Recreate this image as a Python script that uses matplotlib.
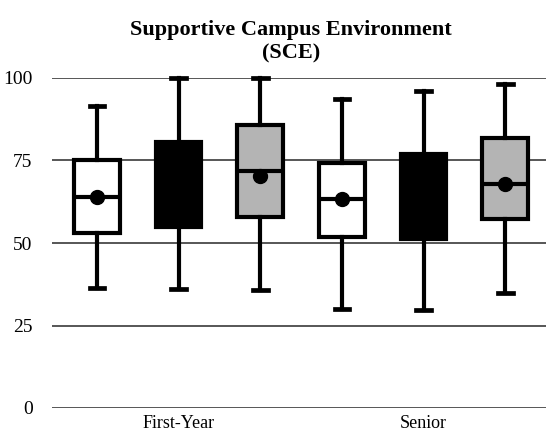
import matplotlib
matplotlib.use("Agg")
import matplotlib.pyplot as plt

# ---- data ----
groups = ["First-Year", "Senior"]
series_colors = ["white", "black", "#b4b4b4"]
whislo = [36.4, 36.0, 35.8, 29.9, 29.7, 34.9]
q1 = [53.0, 54.9, 58.0, 51.9, 51.2, 57.2]
med = [64.0, 68.0, 71.8, 63.2, 64.0, 67.8]
q3 = [75.2, 80.7, 85.8, 74.1, 77.0, 81.7]
whishi = [91.5, 100.0, 100.0, 93.5, 96.1, 98.2]
means = [64.0, 68.0, 70.3, 63.2, 64.0, 67.8]
yticks = [0, 25, 50, 75, 100]

serif = ["Liberation Serif", "DejaVu Serif"]

fig = plt.figure(figsize=(5.46, 4.33), dpi=100)
ax = fig.add_axes([52 / 546, (433 - 408) / 433, (546 - 52) / 546, 330 / 433])

positions = list(range(1, len(q1) + 1))
stats = []
for i in range(len(q1)):
    stats.append(dict(whislo=whislo[i], q1=q1[i], med=med[i], q3=q3[i],
                      whishi=whishi[i], mean=means[i]))

for y in yticks:
    ax.axhline(y, color="#3a3a3a", lw=1.2, zorder=0)

bp = ax.bxp(stats, positions=positions, widths=0.56, capwidths=0.18,
            showmeans=True, patch_artist=True, showfliers=False,
            boxprops=dict(edgecolor="black", linewidth=3.0),
            whiskerprops=dict(color="black", linewidth=3.0),
            capprops=dict(color="black", linewidth=3.4),
            medianprops=dict(color="black", linewidth=3.0),
            meanprops=dict(marker="o", markerfacecolor="black",
                           markeredgecolor="black", markersize=10))
n_series = len(series_colors)
for i, patch in enumerate(bp["boxes"]):
    patch.set_facecolor(series_colors[i % n_series])
for artist_list in bp.values():
    for a in artist_list:
        a.set_clip_on(False)
        a.set_zorder(3)

ax.set_xlim(0.45, 6.5)
ax.set_ylim(0, 100)
ax.set_yticks(yticks)
ax.set_yticklabels([str(v) for v in yticks], fontsize=14, fontfamily=serif)
ax.tick_params(axis="y", length=0, pad=14)
group_centers = [2, 5]
ax.set_xticks(group_centers)
ax.set_xticklabels(groups, fontsize=13, fontfamily=serif)
ax.tick_params(axis="x", length=0, pad=5)
for s in ax.spines.values():
    s.set_visible(False)

fig.text(291 / 546, 1 - 30 / 433, "Supportive Campus Environment",
         ha="center", va="center", fontsize=16, fontweight="bold",
         fontfamily=serif)
fig.text(291 / 546, 1 - 53 / 433, "(SCE)",
         ha="center", va="center", fontsize=16, fontweight="bold",
         fontfamily=serif)

fig.savefig("out.png", dpi=100)
